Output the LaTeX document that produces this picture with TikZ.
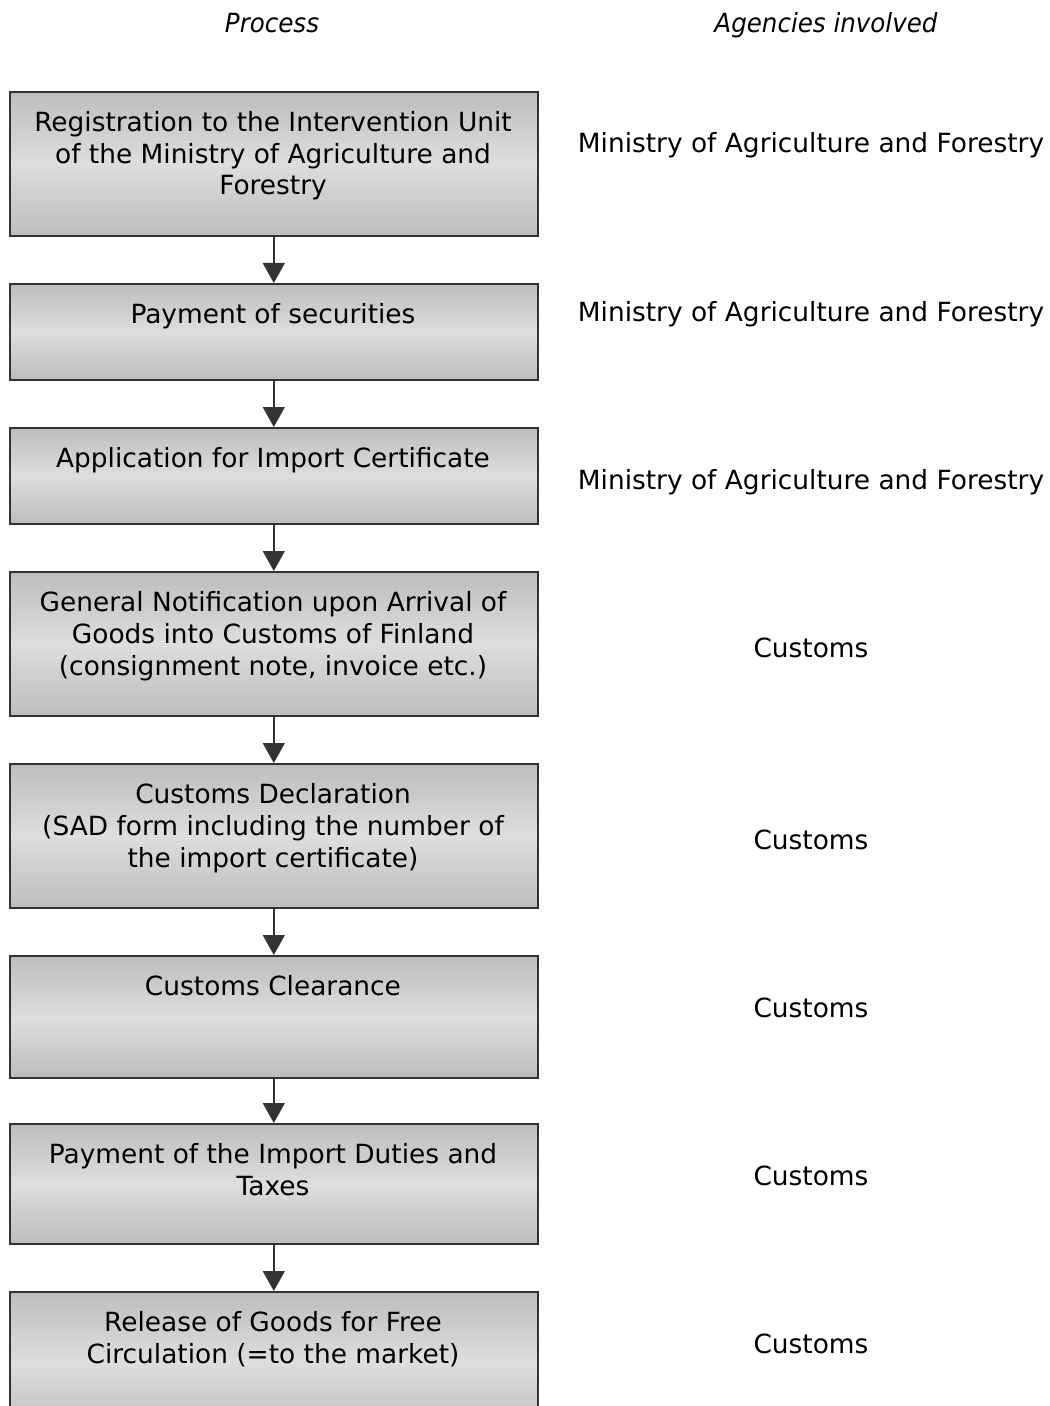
\documentclass[tikz,border=0pt]{standalone}
\usepackage{fontspec}
\setmainfont{DejaVu Sans}
\newfontfamily\hdrfont{DejaVu Sans}[FakeStretch=0.93]
\usetikzlibrary{arrows.meta}
\begin{document}
\begin{tikzpicture}[x=1bp,y=-1bp,
  box/.style={draw=black!80, line width=1.6bp, top color=black!26, bottom color=black!26, middle color=black!13, minimum width=528bp, anchor=north west, inner sep=0pt},
  txt/.style={align=center, anchor=base, inner sep=0pt, font=\fontsize{26.5}{32}\selectfont},
  hdr/.style={anchor=base, inner sep=0pt, font=\hdrfont\fontsize{26.5}{32}\selectfont\itshape},
  arr/.style={draw=black!80, line width=1.6bp, -{Triangle[width=22bp,length=20bp]}}
]
\useasboundingbox[fill=white] (0,0) rectangle (1049,1406);
\node[hdr] (h1) at (272,33) {Process};
\node[hdr] (h2) at (826,33) {Agencies involved};

\node[box, minimum height=144bp] (b1) at (9,91) {};
\node[box, minimum height=96bp] (b2) at (9,283) {};
\node[box, minimum height=96bp] (b3) at (9,427) {};
\node[box, minimum height=144bp] (b4) at (9,571) {};
\node[box, minimum height=144bp] (b5) at (9,763) {};
\node[box, minimum height=122bp] (b6) at (9,955) {};
\node[box, minimum height=120bp] (b7) at (9,1123) {};
\node[box, minimum height=140bp] (b8) at (9,1291) {};

% anchor=base of a multi-line node is the baseline of its last line
\node[txt] (t1) at (273,195) {Registration to the Intervention Unit\\of the Ministry of Agriculture and\\Forestry};
\node[txt] (t2) at (273,323) {Payment of securities};
\node[txt] (t3) at (273,467) {Application for Import Certificate};
\node[txt] (t4) at (273,675) {General Notification upon Arrival of\\Goods into Customs of Finland\\(consignment note, invoice etc.)};
\node[txt] (t5) at (273,867) {Customs Declaration\\(SAD form including the number of\\the import certificate)};
\node[txt] (t6) at (273,995) {Customs Clearance};
\node[txt] (t7) at (273,1195) {Payment of the Import Duties and\\Taxes};
\node[txt] (t8) at (273,1363) {Release of Goods for Free\\Circulation (=to the market)};

\node[txt] (a1) at (811,153) {Ministry of Agriculture and Forestry};
\node[txt] (a2) at (811,321) {Ministry of Agriculture and Forestry};
\node[txt] (a3) at (811,489) {Ministry of Agriculture and Forestry};
\node[txt] (a4) at (811,657) {Customs};
\node[txt] (a5) at (811,849) {Customs};
\node[txt] (a6) at (811,1017) {Customs};
\node[txt] (a7) at (811,1185) {Customs};
\node[txt] (a8) at (811,1353) {Customs};

\foreach \a/\b in {b1/b2,b2/b3,b3/b4,b4/b5,b5/b6,b6/b7,b7/b8}
  \draw[arr] (\a.south) -- (\b.north);
\end{tikzpicture}
\end{document}
